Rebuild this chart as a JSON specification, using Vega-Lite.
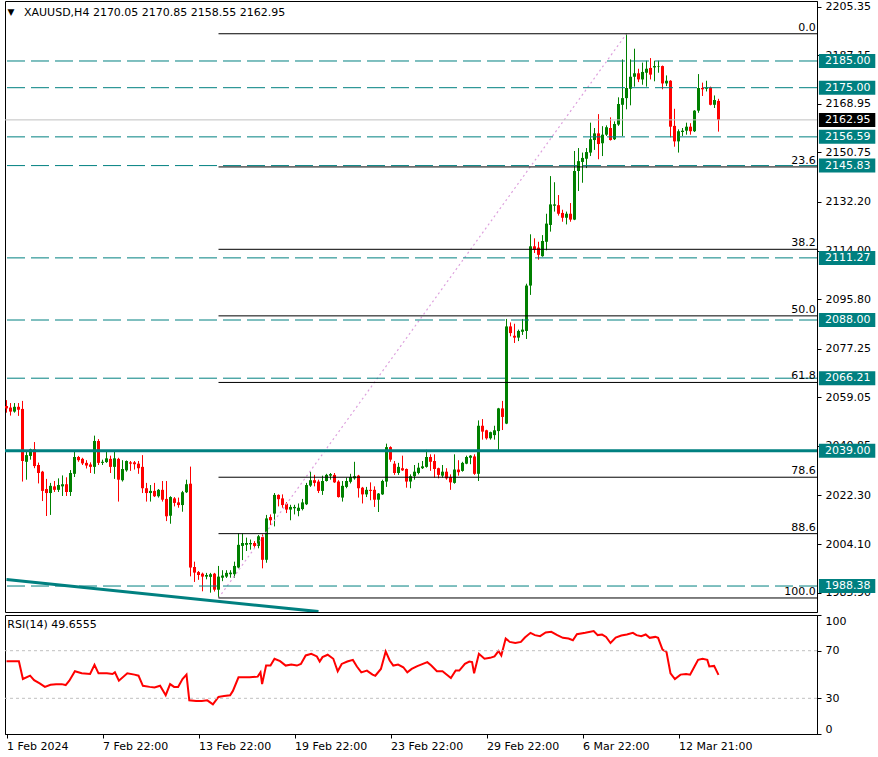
{
"$schema": "https://vega.github.io/schema/vega-lite/v6.json",
"padding": {"left": 2, "top": 0, "right": 0, "bottom": 0},
"background": "white",
"spacing": 3,
"bounds": "flush",
"config": {
 "view": {"stroke": "#000000", "strokeWidth": 1},
 "font": "DejaVu Sans"
},
"datasets": {
 "candles": [
{"i":0,"o":2055.8,"h":2058.0,"l":2053.3,"c":2054.9},
{"i":1,"o":2055.2,"h":2056.9,"l":2052.2,"c":2053.7},
{"i":2,"o":2053.7,"h":2056.9,"l":2053.3,"c":2055.5},
{"i":3,"o":2055.5,"h":2056.9,"l":2052.1,"c":2054.4},
{"i":4,"o":2054.7,"h":2057.7,"l":2027.5,"c":2035.2},
{"i":5,"o":2034.9,"h":2039.0,"l":2028.2,"c":2037.4},
{"i":6,"o":2037.1,"h":2039.8,"l":2035.7,"c":2039.6},
{"i":7,"o":2039.6,"h":2042.3,"l":2032.5,"c":2033.3},
{"i":8,"o":2033.7,"h":2034.6,"l":2026.8,"c":2030.7},
{"i":9,"o":2031.2,"h":2031.5,"l":2020.2,"c":2024.0},
{"i":10,"o":2024.7,"h":2028.5,"l":2014.6,"c":2023.2},
{"i":11,"o":2023.2,"h":2027.0,"l":2015.0,"c":2025.9},
{"i":12,"o":2025.7,"h":2027.7,"l":2023.6,"c":2024.4},
{"i":13,"o":2024.4,"h":2028.7,"l":2023.6,"c":2026.2},
{"i":14,"o":2025.7,"h":2029.8,"l":2022.1,"c":2026.5},
{"i":15,"o":2026.5,"h":2029.1,"l":2022.1,"c":2023.6},
{"i":16,"o":2023.6,"h":2031.8,"l":2022.1,"c":2030.7},
{"i":17,"o":2030.4,"h":2039.0,"l":2029.2,"c":2036.7},
{"i":18,"o":2036.7,"h":2037.1,"l":2034.9,"c":2035.5},
{"i":19,"o":2036.0,"h":2036.4,"l":2033.7,"c":2034.3},
{"i":20,"o":2034.5,"h":2035.5,"l":2032.4,"c":2033.5},
{"i":21,"o":2033.9,"h":2034.7,"l":2030.7,"c":2033.0},
{"i":22,"o":2033.0,"h":2044.7,"l":2030.4,"c":2042.7},
{"i":23,"o":2042.7,"h":2043.4,"l":2033.7,"c":2034.5},
{"i":24,"o":2034.5,"h":2035.7,"l":2033.7,"c":2034.9},
{"i":25,"o":2034.8,"h":2039.0,"l":2034.5,"c":2036.2},
{"i":26,"o":2036.0,"h":2037.2,"l":2030.7,"c":2033.0},
{"i":27,"o":2033.0,"h":2039.0,"l":2028.5,"c":2036.2},
{"i":28,"o":2036.0,"h":2036.4,"l":2020.0,"c":2028.2},
{"i":29,"o":2028.0,"h":2035.5,"l":2027.5,"c":2032.2},
{"i":30,"o":2031.7,"h":2035.4,"l":2031.2,"c":2035.2},
{"i":31,"o":2034.7,"h":2035.2,"l":2031.5,"c":2034.2},
{"i":32,"o":2034.7,"h":2035.2,"l":2032.0,"c":2034.0},
{"i":33,"o":2034.2,"h":2035.2,"l":2030.4,"c":2032.5},
{"i":34,"o":2033.0,"h":2037.4,"l":2023.2,"c":2025.0},
{"i":35,"o":2025.0,"h":2027.0,"l":2020.0,"c":2023.2},
{"i":36,"o":2023.2,"h":2026.2,"l":2020.0,"c":2024.0},
{"i":37,"o":2024.0,"h":2027.0,"l":2021.7,"c":2022.0},
{"i":38,"o":2022.0,"h":2024.7,"l":2021.5,"c":2024.4},
{"i":39,"o":2024.4,"h":2027.7,"l":2020.0,"c":2020.7},
{"i":40,"o":2021.0,"h":2027.7,"l":2012.7,"c":2014.5},
{"i":41,"o":2014.7,"h":2022.0,"l":2011.7,"c":2021.7},
{"i":42,"o":2021.2,"h":2021.7,"l":2018.2,"c":2019.5},
{"i":43,"o":2019.7,"h":2021.5,"l":2017.7,"c":2018.7},
{"i":44,"o":2018.7,"h":2024.0,"l":2016.2,"c":2023.5},
{"i":45,"o":2023.5,"h":2028.2,"l":2023.2,"c":2026.5},
{"i":46,"o":2026.7,"h":2033.1,"l":1992.0,"c":1995.3},
{"i":47,"o":1995.5,"h":1997.5,"l":1989.9,"c":1993.4},
{"i":48,"o":1993.6,"h":1994.0,"l":1990.7,"c":1992.5},
{"i":49,"o":1993.0,"h":1993.4,"l":1986.4,"c":1991.9},
{"i":50,"o":1991.9,"h":1993.3,"l":1990.9,"c":1992.5},
{"i":51,"o":1991.8,"h":1993.3,"l":1985.9,"c":1992.8},
{"i":52,"o":1993.0,"h":1993.3,"l":1986.3,"c":1987.0},
{"i":53,"o":1987.0,"h":1995.9,"l":1983.9,"c":1991.9},
{"i":54,"o":1991.5,"h":1994.3,"l":1990.2,"c":1992.3},
{"i":55,"o":1991.9,"h":1994.3,"l":1991.4,"c":1993.3},
{"i":56,"o":1992.8,"h":1994.3,"l":1991.5,"c":1993.4},
{"i":57,"o":1992.8,"h":1997.5,"l":1991.5,"c":1995.9},
{"i":58,"o":1995.3,"h":2008.1,"l":1995.0,"c":2003.8},
{"i":59,"o":2003.4,"h":2008.1,"l":1998.1,"c":2004.5},
{"i":60,"o":2003.8,"h":2006.5,"l":2001.5,"c":2004.5},
{"i":61,"o":2004.0,"h":2005.8,"l":2002.0,"c":2004.5},
{"i":62,"o":2004.5,"h":2005.2,"l":2002.7,"c":2003.4},
{"i":63,"o":2003.4,"h":2007.5,"l":2002.5,"c":2007.0},
{"i":64,"o":2006.7,"h":2007.7,"l":1995.0,"c":1998.2},
{"i":65,"o":1998.2,"h":2015.0,"l":1997.1,"c":2013.7},
{"i":66,"o":2014.2,"h":2015.2,"l":2011.2,"c":2013.0},
{"i":67,"o":2015.5,"h":2023.2,"l":2010.7,"c":2022.5},
{"i":68,"o":2022.5,"h":2022.7,"l":2018.2,"c":2020.9},
{"i":69,"o":2021.2,"h":2022.7,"l":2017.7,"c":2018.7},
{"i":70,"o":2019.2,"h":2019.8,"l":2015.7,"c":2017.0},
{"i":71,"o":2017.0,"h":2018.8,"l":2013.0,"c":2018.0},
{"i":72,"o":2017.5,"h":2018.8,"l":2015.2,"c":2018.0},
{"i":73,"o":2016.5,"h":2019.3,"l":2014.5,"c":2017.7},
{"i":74,"o":2017.2,"h":2021.0,"l":2016.7,"c":2019.7},
{"i":75,"o":2019.0,"h":2027.0,"l":2018.7,"c":2026.2},
{"i":76,"o":2026.0,"h":2031.2,"l":2025.5,"c":2028.0},
{"i":77,"o":2028.0,"h":2030.0,"l":2025.7,"c":2027.0},
{"i":78,"o":2027.5,"h":2028.2,"l":2023.2,"c":2024.0},
{"i":79,"o":2024.0,"h":2029.7,"l":2022.5,"c":2027.7},
{"i":80,"o":2027.7,"h":2030.4,"l":2027.5,"c":2030.0},
{"i":81,"o":2029.7,"h":2030.7,"l":2028.2,"c":2030.3},
{"i":82,"o":2030.0,"h":2030.7,"l":2027.0,"c":2027.2},
{"i":83,"o":2027.5,"h":2028.0,"l":2021.5,"c":2021.7},
{"i":84,"o":2021.5,"h":2027.7,"l":2020.0,"c":2025.9},
{"i":85,"o":2025.5,"h":2029.0,"l":2025.0,"c":2027.7},
{"i":86,"o":2027.4,"h":2030.4,"l":2026.8,"c":2029.2},
{"i":87,"o":2028.7,"h":2034.9,"l":2028.2,"c":2029.5},
{"i":88,"o":2029.7,"h":2030.0,"l":2021.5,"c":2025.0},
{"i":89,"o":2025.2,"h":2025.5,"l":2019.3,"c":2022.7},
{"i":90,"o":2022.7,"h":2025.5,"l":2021.7,"c":2024.4},
{"i":91,"o":2024.4,"h":2027.2,"l":2020.5,"c":2024.0},
{"i":92,"o":2024.4,"h":2025.7,"l":2018.0,"c":2020.7},
{"i":93,"o":2020.7,"h":2023.2,"l":2016.1,"c":2023.0},
{"i":94,"o":2022.7,"h":2028.2,"l":2022.5,"c":2027.7},
{"i":95,"o":2027.5,"h":2041.7,"l":2025.5,"c":2040.4},
{"i":96,"o":2040.4,"h":2040.7,"l":2034.9,"c":2035.7},
{"i":97,"o":2034.2,"h":2035.2,"l":2030.0,"c":2030.7},
{"i":98,"o":2030.7,"h":2034.5,"l":2030.0,"c":2033.0},
{"i":99,"o":2032.5,"h":2037.2,"l":2031.5,"c":2031.7},
{"i":100,"o":2032.2,"h":2032.4,"l":2025.2,"c":2027.5},
{"i":101,"o":2027.5,"h":2030.2,"l":2025.0,"c":2029.5},
{"i":102,"o":2029.5,"h":2033.7,"l":2028.2,"c":2031.2},
{"i":103,"o":2030.7,"h":2034.5,"l":2030.2,"c":2032.7},
{"i":104,"o":2032.5,"h":2035.2,"l":2032.2,"c":2033.2},
{"i":105,"o":2033.0,"h":2039.4,"l":2032.7,"c":2036.7},
{"i":106,"o":2036.7,"h":2037.7,"l":2031.5,"c":2034.9},
{"i":107,"o":2035.2,"h":2037.7,"l":2029.0,"c":2032.2},
{"i":108,"o":2032.5,"h":2032.7,"l":2028.7,"c":2030.0},
{"i":109,"o":2029.7,"h":2033.7,"l":2029.0,"c":2031.2},
{"i":110,"o":2031.2,"h":2032.5,"l":2028.2,"c":2028.7},
{"i":111,"o":2029.2,"h":2030.2,"l":2024.4,"c":2027.2},
{"i":112,"o":2027.0,"h":2037.7,"l":2026.7,"c":2032.0},
{"i":113,"o":2032.0,"h":2035.5,"l":2029.7,"c":2031.0},
{"i":114,"o":2031.5,"h":2034.9,"l":2031.2,"c":2034.5},
{"i":115,"o":2034.2,"h":2037.2,"l":2034.0,"c":2036.7},
{"i":116,"o":2036.4,"h":2037.4,"l":2034.0,"c":2037.2},
{"i":117,"o":2036.9,"h":2037.7,"l":2030.0,"c":2030.4},
{"i":118,"o":2030.4,"h":2050.4,"l":2027.7,"c":2048.4},
{"i":119,"o":2048.4,"h":2050.9,"l":2043.2,"c":2046.2},
{"i":120,"o":2046.7,"h":2046.9,"l":2043.2,"c":2043.7},
{"i":121,"o":2043.7,"h":2046.2,"l":2043.2,"c":2046.0},
{"i":122,"o":2044.9,"h":2048.4,"l":2043.2,"c":2046.7},
{"i":123,"o":2046.4,"h":2055.1,"l":2039.2,"c":2054.9},
{"i":124,"o":2054.9,"h":2057.7,"l":2046.8,"c":2051.7},
{"i":125,"o":2049.2,"h":2088.4,"l":2049.0,"c":2085.6},
{"i":126,"o":2085.6,"h":2087.1,"l":2081.9,"c":2083.1},
{"i":127,"o":2082.1,"h":2086.6,"l":2079.4,"c":2081.4},
{"i":128,"o":2081.4,"h":2084.4,"l":2080.1,"c":2083.9},
{"i":129,"o":2083.6,"h":2088.4,"l":2082.4,"c":2084.4},
{"i":130,"o":2083.9,"h":2101.6,"l":2080.9,"c":2100.9},
{"i":131,"o":2100.9,"h":2120.1,"l":2097.4,"c":2115.6},
{"i":132,"o":2115.6,"h":2118.6,"l":2113.1,"c":2114.3},
{"i":133,"o":2115.1,"h":2117.3,"l":2110.6,"c":2112.4},
{"i":134,"o":2111.9,"h":2119.8,"l":2111.7,"c":2117.6},
{"i":135,"o":2117.3,"h":2127.8,"l":2114.1,"c":2124.1},
{"i":136,"o":2123.6,"h":2141.9,"l":2121.1,"c":2131.3},
{"i":137,"o":2130.8,"h":2139.6,"l":2128.6,"c":2131.3},
{"i":138,"o":2131.0,"h":2134.8,"l":2127.1,"c":2127.8},
{"i":139,"o":2128.1,"h":2129.3,"l":2124.8,"c":2126.3},
{"i":140,"o":2126.3,"h":2128.6,"l":2123.8,"c":2127.8},
{"i":141,"o":2127.8,"h":2131.8,"l":2124.8,"c":2125.6},
{"i":142,"o":2125.6,"h":2151.3,"l":2125.4,"c":2143.8},
{"i":143,"o":2143.8,"h":2152.4,"l":2136.3,"c":2147.5},
{"i":144,"o":2147.2,"h":2150.7,"l":2139.4,"c":2148.7},
{"i":145,"o":2148.4,"h":2152.4,"l":2144.9,"c":2150.9},
{"i":146,"o":2150.7,"h":2161.9,"l":2149.4,"c":2155.7},
{"i":147,"o":2155.4,"h":2159.9,"l":2151.7,"c":2157.9},
{"i":148,"o":2157.9,"h":2165.1,"l":2148.2,"c":2153.9},
{"i":149,"o":2154.2,"h":2160.6,"l":2149.4,"c":2157.4},
{"i":150,"o":2157.4,"h":2160.9,"l":2156.9,"c":2160.2},
{"i":151,"o":2159.9,"h":2163.9,"l":2155.2,"c":2155.4},
{"i":152,"o":2155.7,"h":2162.4,"l":2155.4,"c":2161.4},
{"i":153,"o":2161.2,"h":2171.4,"l":2160.7,"c":2168.9},
{"i":154,"o":2168.6,"h":2185.6,"l":2156.9,"c":2171.1},
{"i":155,"o":2171.1,"h":2195.2,"l":2166.9,"c":2174.9},
{"i":156,"o":2174.6,"h":2185.6,"l":2168.4,"c":2179.1},
{"i":157,"o":2179.1,"h":2189.6,"l":2175.4,"c":2180.4},
{"i":158,"o":2180.4,"h":2182.1,"l":2177.1,"c":2178.1},
{"i":159,"o":2178.1,"h":2184.4,"l":2176.1,"c":2180.9},
{"i":160,"o":2180.6,"h":2185.1,"l":2175.4,"c":2182.1},
{"i":161,"o":2182.4,"h":2186.1,"l":2178.1,"c":2179.9},
{"i":162,"o":2182.6,"h":2185.1,"l":2177.4,"c":2183.1},
{"i":163,"o":2182.9,"h":2185.1,"l":2180.6,"c":2183.1},
{"i":164,"o":2183.1,"h":2183.3,"l":2174.4,"c":2176.6},
{"i":165,"o":2176.6,"h":2179.6,"l":2175.6,"c":2177.6},
{"i":166,"o":2177.6,"h":2177.8,"l":2156.4,"c":2160.4},
{"i":167,"o":2160.7,"h":2167.1,"l":2152.9,"c":2154.9},
{"i":168,"o":2154.9,"h":2159.4,"l":2150.7,"c":2158.7},
{"i":169,"o":2158.4,"h":2159.9,"l":2156.9,"c":2158.9},
{"i":170,"o":2158.9,"h":2161.9,"l":2157.4,"c":2160.4},
{"i":171,"o":2160.4,"h":2161.7,"l":2157.4,"c":2158.7},
{"i":172,"o":2158.7,"h":2166.6,"l":2158.4,"c":2166.4},
{"i":173,"o":2166.4,"h":2180.1,"l":2165.6,"c":2174.9},
{"i":174,"o":2174.9,"h":2176.9,"l":2171.9,"c":2174.4},
{"i":175,"o":2174.6,"h":2177.6,"l":2173.6,"c":2175.1},
{"i":176,"o":2175.1,"h":2175.4,"l":2168.4,"c":2168.6},
{"i":177,"o":2168.6,"h":2172.1,"l":2167.4,"c":2170.4},
{"i":178,"o":2170.05,"h":2170.85,"l":2158.55,"c":2162.95}
 ],
 "rsi": [
{"i":0,"v":61.2},{"i":3.1,"v":61.2},{"i":4.1,"v":46.2},{"i":5.9,"v":49.0},{"i":6.9,"v":45.3},{"i":8.3,"v":42.5},{"i":9.6,"v":39.6},{"i":11.0,"v":41.3},{"i":12.4,"v":41.9},{"i":13.8,"v":41.9},{"i":14.8,"v":41.1},{"i":15.7,"v":44.8},{"i":17.1,"v":52.7},{"i":18.8,"v":51.0},{"i":20.9,"v":50.4},{"i":22.0,"v":58.1},{"i":23.0,"v":51.0},{"i":25.1,"v":51.0},{"i":26.5,"v":50.4},{"i":27.1,"v":51.8},{"i":28.1,"v":44.8},{"i":30.2,"v":51.0},{"i":32.0,"v":49.9},{"i":33.0,"v":49.0},{"i":34.1,"v":40.5},{"i":35.8,"v":39.6},{"i":37.0,"v":39.1},{"i":38.4,"v":40.5},{"i":39.8,"v":32.6},{"i":40.9,"v":41.9},{"i":41.9,"v":39.6},{"i":42.9,"v":39.6},{"i":44.0,"v":46.2},{"i":45.0,"v":49.9},{"i":45.7,"v":28.3},{"i":47.4,"v":27.7},{"i":48.8,"v":27.7},{"i":50.2,"v":28.3},{"i":51.6,"v":24.9},{"i":53.0,"v":31.1},{"i":54.4,"v":32.0},{"i":55.9,"v":32.6},{"i":56.6,"v":36.2},{"i":58.0,"v":47.6},{"i":60.8,"v":47.6},{"i":62.8,"v":48.2},{"i":63.5,"v":51.8},{"i":63.9,"v":41.9},{"i":64.9,"v":57.5},{"i":66.0,"v":57.5},{"i":67.0,"v":63.2},{"i":68.4,"v":61.2},{"i":69.8,"v":57.5},{"i":71.2,"v":58.4},{"i":72.6,"v":57.5},{"i":73.6,"v":58.9},{"i":74.8,"v":66.0},{"i":76.2,"v":67.4},{"i":77.6,"v":65.2},{"i":78.3,"v":60.9},{"i":79.0,"v":64.6},{"i":80.3,"v":66.6},{"i":81.7,"v":63.2},{"i":82.8,"v":52.7},{"i":83.8,"v":58.9},{"i":85.2,"v":60.9},{"i":86.6,"v":62.3},{"i":87.6,"v":56.7},{"i":88.7,"v":51.8},{"i":90.1,"v":53.3},{"i":91.5,"v":49.9},{"i":92.2,"v":49.0},{"i":93.6,"v":54.7},{"i":94.8,"v":69.4},{"i":95.8,"v":61.8},{"i":96.7,"v":57.5},{"i":97.9,"v":58.4},{"i":99.2,"v":56.1},{"i":100.2,"v":51.8},{"i":101.3,"v":54.7},{"i":102.7,"v":57.0},{"i":104.1,"v":58.9},{"i":105.2,"v":60.4},{"i":106.2,"v":57.5},{"i":107.6,"v":52.7},{"i":109.0,"v":52.7},{"i":110.4,"v":49.0},{"i":111.1,"v":47.0},{"i":112.3,"v":53.3},{"i":113.2,"v":53.3},{"i":114.6,"v":58.9},{"i":115.7,"v":60.9},{"i":116.4,"v":60.4},{"i":116.9,"v":51.0},{"i":118.1,"v":67.4},{"i":119.5,"v":63.2},{"i":120.9,"v":64.0},{"i":122.0,"v":65.2},{"i":123.0,"v":69.7},{"i":123.7,"v":66.0},{"i":124.8,"v":80.2},{"i":125.8,"v":77.4},{"i":127.2,"v":76.5},{"i":128.6,"v":77.4},{"i":129.6,"v":81.1},{"i":131.0,"v":85.0},{"i":132.1,"v":83.1},{"i":133.4,"v":82.2},{"i":134.8,"v":85.3},{"i":136.2,"v":85.9},{"i":137.7,"v":83.1},{"i":139.1,"v":80.8},{"i":140.5,"v":80.2},{"i":141.6,"v":78.8},{"i":142.6,"v":83.9},{"i":144.7,"v":85.0},{"i":146.8,"v":86.5},{"i":147.8,"v":83.1},{"i":148.9,"v":83.6},{"i":149.9,"v":81.6},{"i":151.0,"v":76.5},{"i":152.3,"v":81.1},{"i":153.7,"v":82.8},{"i":155.1,"v":83.6},{"i":156.6,"v":85.0},{"i":157.5,"v":83.1},{"i":158.7,"v":82.2},{"i":159.8,"v":83.6},{"i":160.8,"v":80.8},{"i":162.2,"v":81.6},{"i":162.9,"v":80.8},{"i":164.0,"v":70.9},{"i":165.0,"v":68.9},{"i":166.0,"v":51.0},{"i":167.1,"v":46.2},{"i":168.5,"v":49.9},{"i":169.9,"v":50.4},{"i":170.9,"v":49.9},{"i":171.9,"v":56.1},{"i":172.9,"v":62.3},{"i":174.0,"v":63.2},{"i":175.2,"v":62.3},{"i":175.7,"v":56.7},{"i":176.9,"v":57.2},{"i":178.0,"v":49.66}
 ],
 "dashlines": [{"p":2185.00},{"p":2175.00},{"p":2156.59},{"p":2145.83},{"p":2111.27},{"p":2088.00},{"p":2066.21},{"p":1988.38}],
 "solidline": [{"p":2039.00}],
 "bid": [{"p":2162.95}],
 "fibs": [{"level":"0.0","p":2195.2},{"level":"23.6","p":2145.33},{"level":"38.2","p":2114.48},{"level":"50.0","p":2089.55},{"level":"61.8","p":2064.62},{"level":"78.6","p":2029.12},{"level":"88.6","p":2007.99},{"level":"100.0","p":1983.9}],
 "fibbase": [{"i":53,"p":1983.9},{"i":155,"p":2195.2}],
 "trend": [{"i":0,"p":1990.84},{"i":78,"p":1978.8}],
 "tags": [{"p":2185.00,"t":"2185.00","k":"lvl"},{"p":2175.00,"t":"2175.00","k":"lvl"},{"p":2162.95,"t":"2162.95","k":"bid"},{"p":2156.59,"t":"2156.59","k":"lvl"},{"p":2145.83,"t":"2145.83","k":"lvl"},{"p":2111.27,"t":"2111.27","k":"lvl"},{"p":2088.00,"t":"2088.00","k":"lvl"},{"p":2066.21,"t":"2066.21","k":"lvl"},{"p":2039.00,"t":"2039.00","k":"lvl"},{"p":1988.38,"t":"1988.38","k":"lvl"}],
 "title": [{"t":"XAUUSD,H4  2170.05 2170.85 2158.55 2162.95"}],
 "tri": [{"t":"▼"}],
 "rsilev": [{"v":30},{"v":70}],
 "rsilabel": [{"t":"RSI(14) 49.6555"}]
},
"vconcat": [
 {
  "width": 812, "height": 611,
  "layer": [
   {"data":{"name":"candles"},"mark":{"type":"rule","strokeWidth":1},
    "encoding":{
     "x":{"field":"i","type":"quantitative","scale":{"domain":[-0.375,202.625],"nice":false,"zero":false,"padding":0},"axis":null},
     "y":{"field":"l","type":"quantitative","scale":{"domain":[1978.65,2207.47],"nice":false,"zero":false,"padding":0},
          "axis":{"orient":"right","title":null,"grid":false,"values":[2205.35,2187.15,2168.95,2150.75,2132.2,2114.0,2095.8,2077.25,2059.05,2040.85,2022.3,2004.1,1985.9],"format":".2f","labelPadding":4,"tickSize":4,"labelFont":"DejaVu Sans","labelFontSize":11,"labelColor":"#000000","tickColor":"#000000","domainColor":"#000000","labelOverlap":false}},
     "y2":{"field":"h"},
     "color":{"condition":{"test":"datum.c >= datum.o","value":"#008000"},"value":"#FF0000"}}},
   {"data":{"name":"candles"},"mark":{"type":"bar","size":3},
    "encoding":{
     "x":{"field":"i","type":"quantitative","scale":{"domain":[-0.375,202.625],"nice":false,"zero":false,"padding":0},"axis":null},
     "y":{"field":"o","type":"quantitative","scale":{"domain":[1978.65,2207.47],"nice":false,"zero":false,"padding":0},
          "axis":{"orient":"right","title":null,"grid":false,"values":[2205.35,2187.15,2168.95,2150.75,2132.2,2114.0,2095.8,2077.25,2059.05,2040.85,2022.3,2004.1,1985.9],"format":".2f","labelPadding":4,"tickSize":4,"labelFont":"DejaVu Sans","labelFontSize":11,"labelColor":"#000000","tickColor":"#000000","domainColor":"#000000","labelOverlap":false}},
     "y2":{"field":"c"},
     "color":{"condition":{"test":"datum.c >= datum.o","value":"#008000"},"value":"#FF0000"}}},
   {"data":{"name":"trend"},"mark":{"type":"line","color":"#008080","strokeWidth":3,"clip":true},
    "encoding":{
     "x":{"field":"i","type":"quantitative","scale":{"domain":[-0.375,202.625],"nice":false,"zero":false,"padding":0},"axis":null},
     "y":{"field":"p","type":"quantitative","scale":{"domain":[1978.65,2207.47],"nice":false,"zero":false,"padding":0},
          "axis":{"orient":"right","title":null,"grid":false,"values":[2205.35,2187.15,2168.95,2150.75,2132.2,2114.0,2095.8,2077.25,2059.05,2040.85,2022.3,2004.1,1985.9],"format":".2f","labelPadding":4,"tickSize":4,"labelFont":"DejaVu Sans","labelFontSize":11,"labelColor":"#000000","tickColor":"#000000","domainColor":"#000000","labelOverlap":false}}}},
   {"data":{"name":"fibbase"},"mark":{"type":"line","color":"#DDA0DD","strokeWidth":1.2,"strokeDash":[2,3]},
    "encoding":{
     "x":{"field":"i","type":"quantitative","scale":{"domain":[-0.375,202.625],"nice":false,"zero":false,"padding":0},"axis":null},
     "y":{"field":"p","type":"quantitative","scale":{"domain":[1978.65,2207.47],"nice":false,"zero":false,"padding":0},
          "axis":{"orient":"right","title":null,"grid":false,"values":[2205.35,2187.15,2168.95,2150.75,2132.2,2114.0,2095.8,2077.25,2059.05,2040.85,2022.3,2004.1,1985.9],"format":".2f","labelPadding":4,"tickSize":4,"labelFont":"DejaVu Sans","labelFontSize":11,"labelColor":"#000000","tickColor":"#000000","domainColor":"#000000","labelOverlap":false}}}},
   {"data":{"name":"fibs"},"mark":{"type":"rule","color":"#000000","strokeWidth":1},
    "encoding":{
     "x":{"datum":53,"type":"quantitative","scale":{"domain":[-0.375,202.625],"nice":false,"zero":false,"padding":0},"axis":null},
     "x2":{"datum":202.625},
     "y":{"field":"p","type":"quantitative","scale":{"domain":[1978.65,2207.47],"nice":false,"zero":false,"padding":0},
          "axis":{"orient":"right","title":null,"grid":false,"values":[2205.35,2187.15,2168.95,2150.75,2132.2,2114.0,2095.8,2077.25,2059.05,2040.85,2022.3,2004.1,1985.9],"format":".2f","labelPadding":4,"tickSize":4,"labelFont":"DejaVu Sans","labelFontSize":11,"labelColor":"#000000","tickColor":"#000000","domainColor":"#000000","labelOverlap":false}}}},
   {"data":{"name":"dashlines"},"mark":{"type":"rule","color":"#008080","strokeWidth":1,"strokeDash":[18,6]},
    "encoding":{
     "y":{"field":"p","type":"quantitative","scale":{"domain":[1978.65,2207.47],"nice":false,"zero":false,"padding":0},
          "axis":{"orient":"right","title":null,"grid":false,"values":[2205.35,2187.15,2168.95,2150.75,2132.2,2114.0,2095.8,2077.25,2059.05,2040.85,2022.3,2004.1,1985.9],"format":".2f","labelPadding":4,"tickSize":4,"labelFont":"DejaVu Sans","labelFontSize":11,"labelColor":"#000000","tickColor":"#000000","domainColor":"#000000","labelOverlap":false}}}},
   {"data":{"name":"solidline"},"mark":{"type":"rule","color":"#008080","strokeWidth":3},
    "encoding":{
     "y":{"field":"p","type":"quantitative","scale":{"domain":[1978.65,2207.47],"nice":false,"zero":false,"padding":0},
          "axis":{"orient":"right","title":null,"grid":false,"values":[2205.35,2187.15,2168.95,2150.75,2132.2,2114.0,2095.8,2077.25,2059.05,2040.85,2022.3,2004.1,1985.9],"format":".2f","labelPadding":4,"tickSize":4,"labelFont":"DejaVu Sans","labelFontSize":11,"labelColor":"#000000","tickColor":"#000000","domainColor":"#000000","labelOverlap":false}}}},
   {"data":{"name":"bid"},"mark":{"type":"rule","color":"#C0C0C0","strokeWidth":1},
    "encoding":{
     "y":{"field":"p","type":"quantitative","scale":{"domain":[1978.65,2207.47],"nice":false,"zero":false,"padding":0},
          "axis":{"orient":"right","title":null,"grid":false,"values":[2205.35,2187.15,2168.95,2150.75,2132.2,2114.0,2095.8,2077.25,2059.05,2040.85,2022.3,2004.1,1985.9],"format":".2f","labelPadding":4,"tickSize":4,"labelFont":"DejaVu Sans","labelFontSize":11,"labelColor":"#000000","tickColor":"#000000","domainColor":"#000000","labelOverlap":false}}}},
   {"data":{"name":"fibs"},"mark":{"type":"text","align":"right","baseline":"alphabetic","dy":-3,"fontSize":11,"font":"DejaVu Sans","color":"#000000"},
    "encoding":{
     "x":{"datum":202.3,"type":"quantitative","scale":{"domain":[-0.375,202.625],"nice":false,"zero":false,"padding":0},"axis":null},
     "y":{"field":"p","type":"quantitative","scale":{"domain":[1978.65,2207.47],"nice":false,"zero":false,"padding":0},
          "axis":{"orient":"right","title":null,"grid":false,"values":[2205.35,2187.15,2168.95,2150.75,2132.2,2114.0,2095.8,2077.25,2059.05,2040.85,2022.3,2004.1,1985.9],"format":".2f","labelPadding":4,"tickSize":4,"labelFont":"DejaVu Sans","labelFontSize":11,"labelColor":"#000000","tickColor":"#000000","domainColor":"#000000","labelOverlap":false}},
     "text":{"field":"level"}}},
   {"data":{"name":"tags"},"mark":{"type":"bar","size":14,"clip":false},
    "encoding":{
     "x":{"datum":203.1,"type":"quantitative","scale":{"domain":[-0.375,202.625],"nice":false,"zero":false,"padding":0},"axis":null},
     "x2":{"datum":217.2},
     "y":{"field":"p","type":"quantitative","scale":{"domain":[1978.65,2207.47],"nice":false,"zero":false,"padding":0},
          "axis":{"orient":"right","title":null,"grid":false,"values":[2205.35,2187.15,2168.95,2150.75,2132.2,2114.0,2095.8,2077.25,2059.05,2040.85,2022.3,2004.1,1985.9],"format":".2f","labelPadding":4,"tickSize":4,"labelFont":"DejaVu Sans","labelFontSize":11,"labelColor":"#000000","tickColor":"#000000","domainColor":"#000000","labelOverlap":false}},
     "color":{"condition":{"test":"datum.k == 'bid'","value":"#000000"},"value":"#008080"}}},
   {"data":{"name":"tags"},"mark":{"type":"text","align":"left","baseline":"middle","fontSize":11,"font":"DejaVu Sans","color":"#FFFFFF","clip":false},
    "encoding":{
     "x":{"datum":204.6,"type":"quantitative","scale":{"domain":[-0.375,202.625],"nice":false,"zero":false,"padding":0},"axis":null},
     "y":{"field":"p","type":"quantitative","scale":{"domain":[1978.65,2207.47],"nice":false,"zero":false,"padding":0},
          "axis":{"orient":"right","title":null,"grid":false,"values":[2205.35,2187.15,2168.95,2150.75,2132.2,2114.0,2095.8,2077.25,2059.05,2040.85,2022.3,2004.1,1985.9],"format":".2f","labelPadding":4,"tickSize":4,"labelFont":"DejaVu Sans","labelFontSize":11,"labelColor":"#000000","tickColor":"#000000","domainColor":"#000000","labelOverlap":false}},
     "text":{"field":"t"}}},
   {"data":{"name":"title"},"mark":{"type":"text","align":"left","baseline":"middle","fontSize":11,"font":"DejaVu Sans","color":"#000000"},
    "encoding":{
     "x":{"datum":4.375,"type":"quantitative","scale":{"domain":[-0.375,202.625],"nice":false,"zero":false,"padding":0},"axis":null},
     "y":{"datum":2202.98,"type":"quantitative","scale":{"domain":[1978.65,2207.47],"nice":false,"zero":false,"padding":0},
          "axis":{"orient":"right","title":null,"grid":false,"values":[2205.35,2187.15,2168.95,2150.75,2132.2,2114.0,2095.8,2077.25,2059.05,2040.85,2022.3,2004.1,1985.9],"format":".2f","labelPadding":4,"tickSize":4,"labelFont":"DejaVu Sans","labelFontSize":11,"labelColor":"#000000","tickColor":"#000000","domainColor":"#000000","labelOverlap":false}},
     "text":{"field":"t"}}},
   {"data":{"name":"tri"},"mark":{"type":"text","align":"center","baseline":"middle","fontSize":9,"font":"DejaVu Sans","color":"#000000"},
    "encoding":{
     "x":{"datum":1.125,"type":"quantitative","scale":{"domain":[-0.375,202.625],"nice":false,"zero":false,"padding":0},"axis":null},
     "y":{"datum":2203.3,"type":"quantitative","scale":{"domain":[1978.65,2207.47],"nice":false,"zero":false,"padding":0},
          "axis":{"orient":"right","title":null,"grid":false,"values":[2205.35,2187.15,2168.95,2150.75,2132.2,2114.0,2095.8,2077.25,2059.05,2040.85,2022.3,2004.1,1985.9],"format":".2f","labelPadding":4,"tickSize":4,"labelFont":"DejaVu Sans","labelFontSize":11,"labelColor":"#000000","tickColor":"#000000","domainColor":"#000000","labelOverlap":false}},
     "text":{"field":"t"}}}
  ]
 },
 {
  "width": 812, "height": 119,
  "layer": [
   {"data":{"name":"rsi"},"mark":{"type":"line","color":"#FF0000","strokeWidth":2},
    "encoding":{
     "x":{"field":"i","type":"quantitative","scale":{"domain":[-0.375,202.625],"nice":false,"zero":false,"padding":0},
          "axis":{"orient":"bottom","title":null,"grid":false,"values":[0,24,48,72,96,120,144,168],"labelAlign":"left","labelFlush":false,"labelPadding":2,"tickSize":4,"labelFont":"DejaVu Sans","labelFontSize":11,"labelColor":"#000000","tickColor":"#000000","domainColor":"#000000","labelOverlap":false,"labelExpr":"datum.value==0?'1 Feb 2024':datum.value==24?'7 Feb 22:00':datum.value==48?'13 Feb 22:00':datum.value==72?'19 Feb 22:00':datum.value==96?'23 Feb 22:00':datum.value==120?'29 Feb 22:00':datum.value==144?'6 Mar 22:00':'12 Mar 21:00'"}},
     "y":{"field":"v","type":"quantitative","scale":{"domain":[0,100],"nice":false,"zero":false,"padding":0},
          "axis":{"orient":"right","title":null,"grid":false,"values":[0,30,70,100],"format":"d","labelFlush":true,"labelPadding":4,"tickSize":4,"labelFont":"DejaVu Sans","labelFontSize":11,"labelColor":"#000000","tickColor":"#000000","domainColor":"#000000","labelOverlap":false}}}},
   {"data":{"name":"rsilev"},"mark":{"type":"rule","color":"#C0C0C0","strokeWidth":1,"strokeDash":[3,3]},
    "encoding":{
     "y":{"field":"v","type":"quantitative","scale":{"domain":[0,100],"nice":false,"zero":false,"padding":0},
          "axis":{"orient":"right","title":null,"grid":false,"values":[0,30,70,100],"format":"d","labelFlush":true,"labelPadding":4,"tickSize":4,"labelFont":"DejaVu Sans","labelFontSize":11,"labelColor":"#000000","tickColor":"#000000","domainColor":"#000000","labelOverlap":false}}}},
   {"data":{"name":"rsilabel"},"mark":{"type":"text","align":"left","baseline":"middle","fontSize":11,"font":"DejaVu Sans","color":"#000000"},
    "encoding":{
     "x":{"datum":0.2,"type":"quantitative","scale":{"domain":[-0.375,202.625],"nice":false,"zero":false,"padding":0},
          "axis":{"orient":"bottom","title":null,"grid":false,"values":[0,24,48,72,96,120,144,168],"labelAlign":"left","labelFlush":false,"labelPadding":2,"tickSize":4,"labelFont":"DejaVu Sans","labelFontSize":11,"labelColor":"#000000","tickColor":"#000000","domainColor":"#000000","labelOverlap":false,"labelExpr":"datum.value==0?'1 Feb 2024':datum.value==24?'7 Feb 22:00':datum.value==48?'13 Feb 22:00':datum.value==72?'19 Feb 22:00':datum.value==96?'23 Feb 22:00':datum.value==120?'29 Feb 22:00':datum.value==144?'6 Mar 22:00':'12 Mar 21:00'"}},
     "y":{"datum":91.6,"type":"quantitative","scale":{"domain":[0,100],"nice":false,"zero":false,"padding":0},
          "axis":{"orient":"right","title":null,"grid":false,"values":[0,30,70,100],"format":"d","labelFlush":true,"labelPadding":4,"tickSize":4,"labelFont":"DejaVu Sans","labelFontSize":11,"labelColor":"#000000","tickColor":"#000000","domainColor":"#000000","labelOverlap":false}},
     "text":{"field":"t"}}}
  ]
 }
]
}
